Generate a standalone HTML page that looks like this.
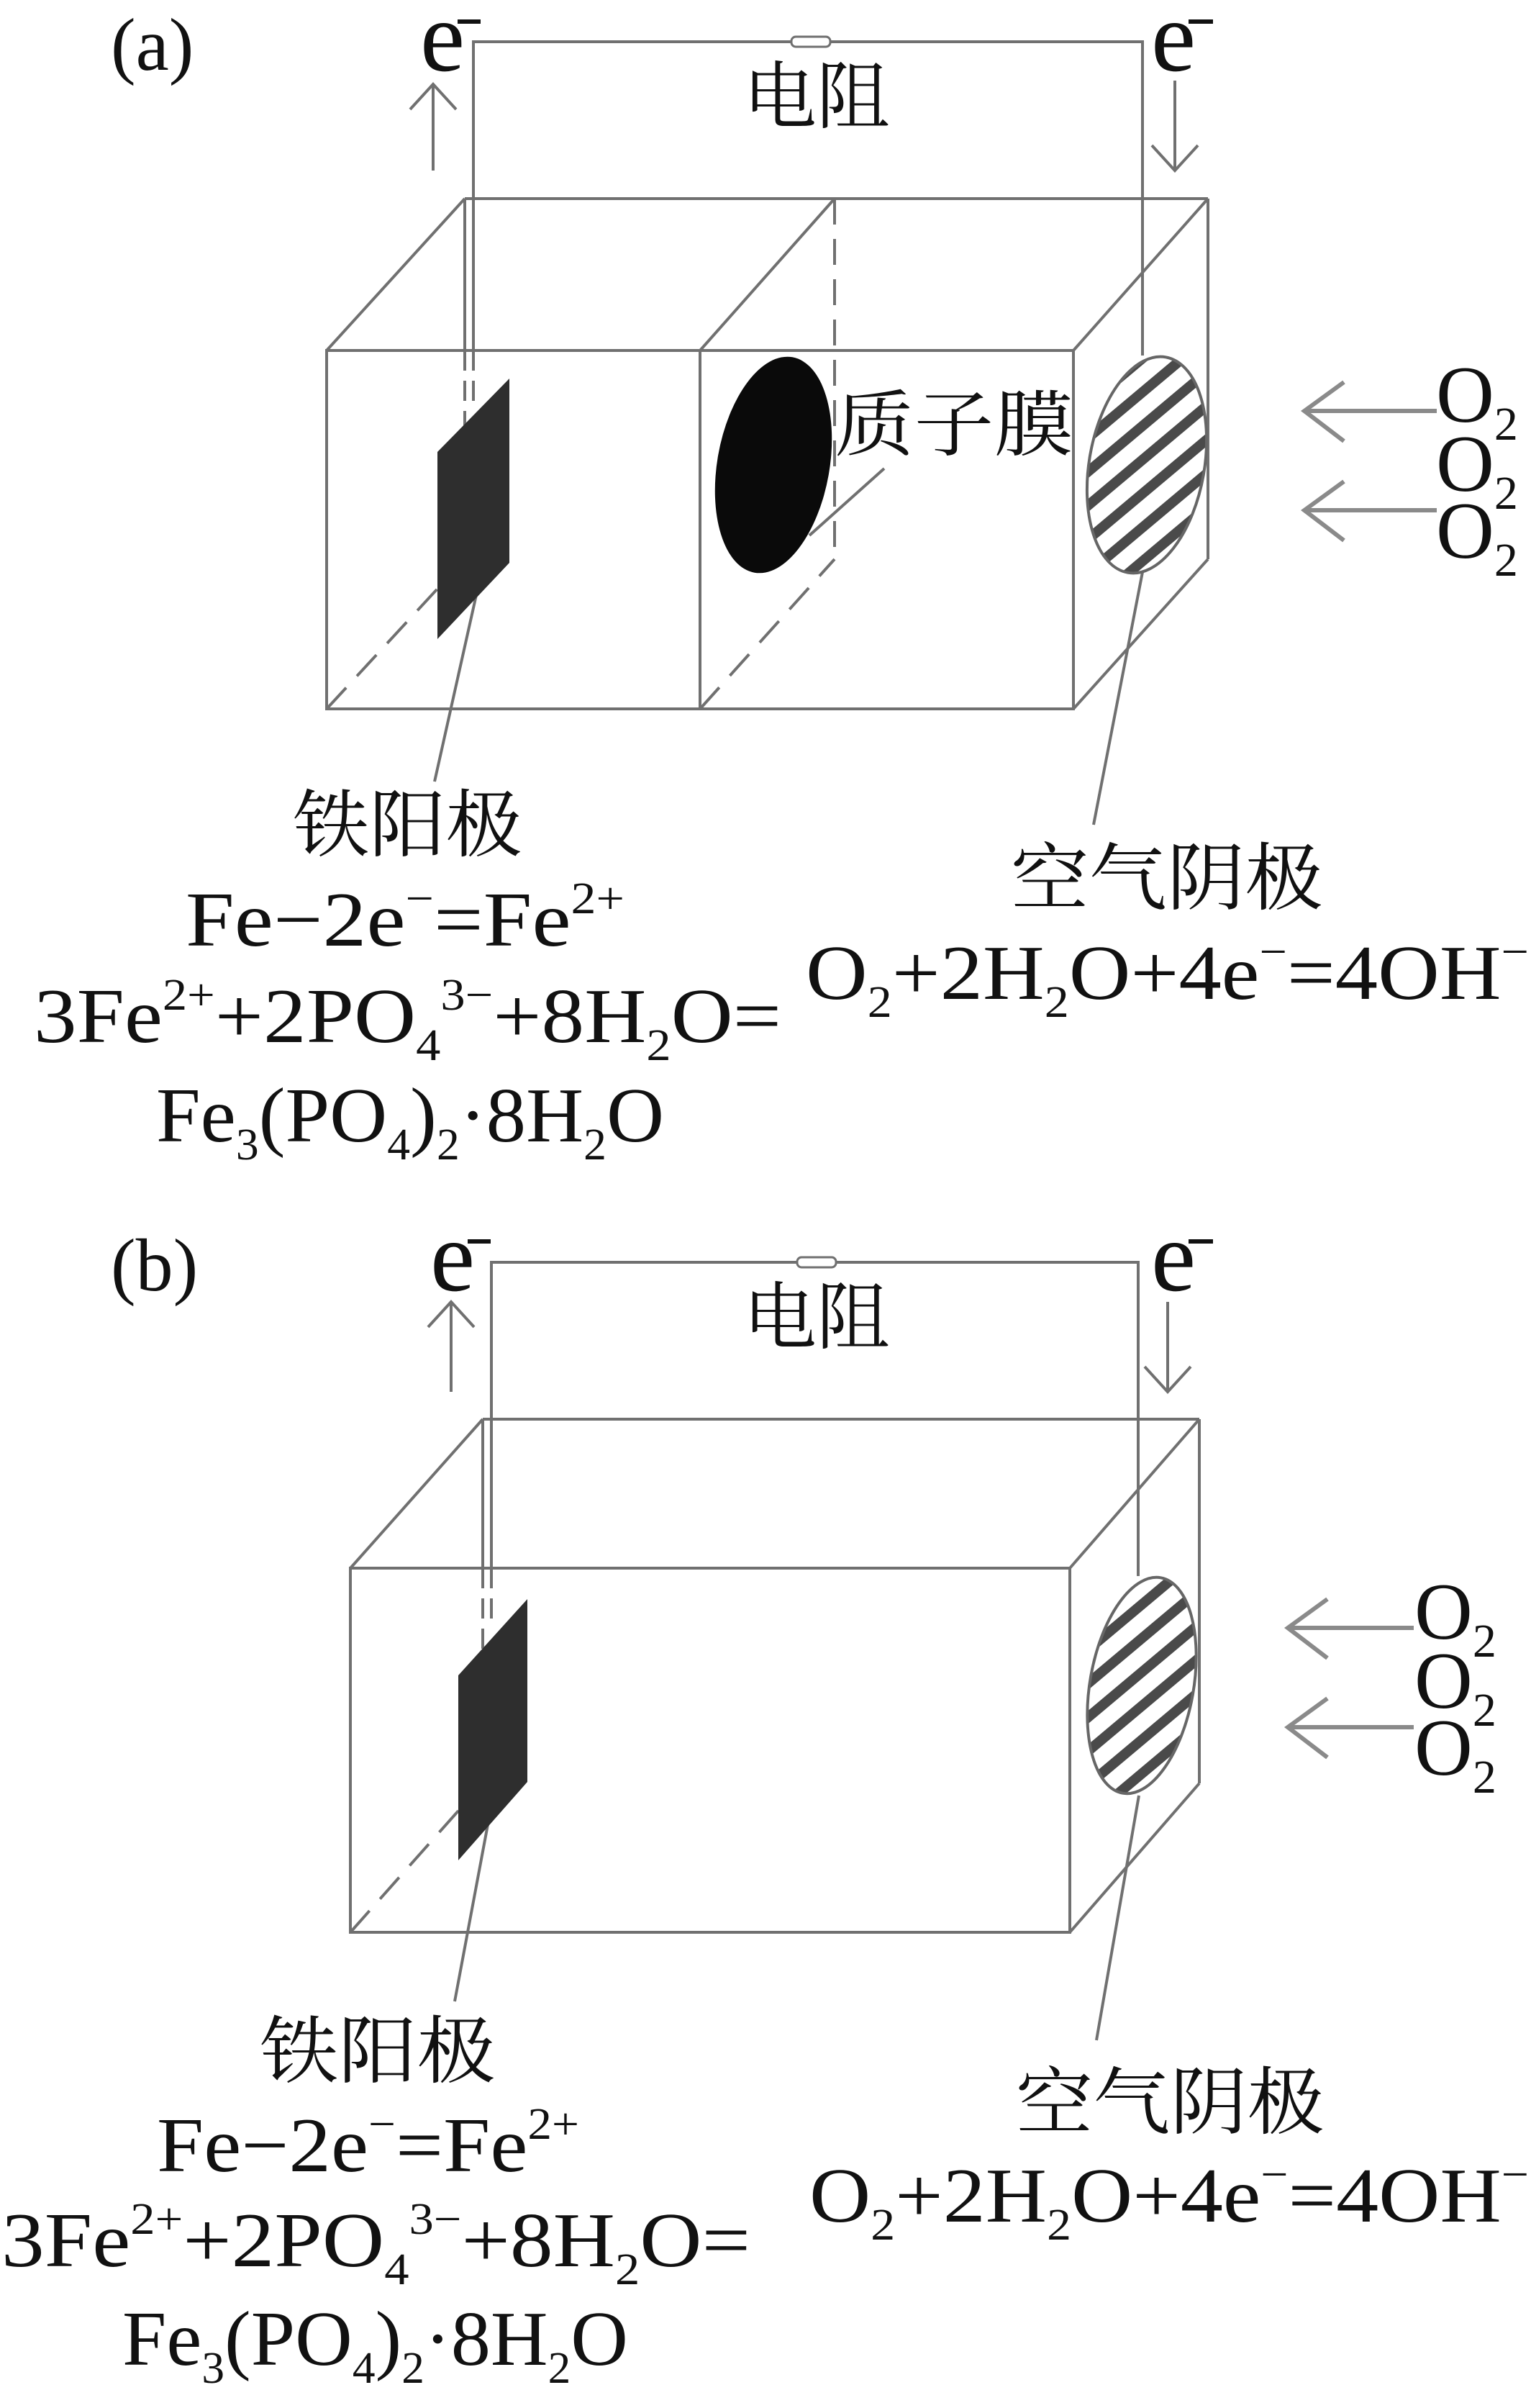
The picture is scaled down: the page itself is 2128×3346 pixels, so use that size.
<!DOCTYPE html>
<html><head><meta charset="utf-8">
<style>
html,body{margin:0;padding:0;background:#fff;}
svg{display:block;}
.t{font-family:"Liberation Serif","Noto Serif CJK SC",serif;fill:#111;}
.c{font-family:"Liberation Serif","Noto Serif CJK SC","Noto Sans CJK SC",serif;fill:#111;}
.eq{font-family:"Liberation Serif",serif;fill:#111;}
</style></head>
<body>
<svg width="2128" height="3346" viewBox="0 0 2128 3346" xmlns="http://www.w3.org/2000/svg">
<defs>
<pattern id="hatch" patternUnits="userSpaceOnUse" width="36" height="36" patternTransform="rotate(-50)">
<rect width="36" height="36" fill="#fff"/>
<rect width="36" height="14" fill="#4a4a4a"/>
</pattern>
</defs>

<!-- ============ PANEL A ============ -->
<g stroke="#707070" stroke-width="4" fill="none">
  <polyline points="658,487 658,58 1588,58 1588,494"/>
  <line x1="658" y1="487" x2="658" y2="560" stroke-dasharray="28,14"/>
  <line x1="646" y1="276" x2="1679" y2="276"/>
  <line x1="646" y1="276" x2="646" y2="487"/>
  <line x1="646" y1="487" x2="646" y2="600" stroke-dasharray="28,14"/>
  <line x1="1679" y1="276" x2="1679" y2="777"/>
  <rect x="454" y="487" width="1038" height="498"/>
  <line x1="454" y1="487" x2="646" y2="276"/>
  <line x1="1492" y1="487" x2="1679" y2="276"/>
  <line x1="1492" y1="985" x2="1679" y2="777"/>
  <line x1="454" y1="985" x2="646" y2="777" stroke-dasharray="40,22"/>
  <line x1="973" y1="487" x2="973" y2="985"/>
  <line x1="973" y1="487" x2="1160" y2="276"/>
  <line x1="1160" y1="276" x2="1160" y2="777" stroke-dasharray="36,20"/>
  <line x1="973" y1="985" x2="1160" y2="777" stroke-dasharray="40,22"/>
  <line x1="602" y1="237" x2="602" y2="118"/>
  <polyline points="570,152 602,117 634,152"/>
  <line x1="1633" y1="112" x2="1633" y2="236"/>
  <polyline points="1601,202 1633,237 1665,202"/>
  <line x1="668" y1="800" x2="604" y2="1086"/>
  <line x1="1588" y1="795" x2="1520" y2="1146"/>
  <line x1="1229" y1="651" x2="1125" y2="744"/>
</g>
<rect x="1100" y="51" width="54" height="14" rx="6" fill="#fff" stroke="#707070" stroke-width="3"/>
<polygon points="608,628 708,526 708,782 608,888" fill="#2e2e2e"/>
<ellipse cx="1075" cy="646" rx="78" ry="152" transform="rotate(10 1075 646)" fill="#0a0a0a"/>
<ellipse cx="1594" cy="646" rx="80" ry="152" transform="rotate(10 1594 646)" fill="url(#hatch)" stroke="#666" stroke-width="4"/>
<g stroke="#8a8a8a" stroke-width="6" fill="none">
  <line x1="1997" y1="571" x2="1813" y2="571"/>
  <polyline points="1868,531 1813,571 1868,613"/>
  <line x1="1997" y1="709" x2="1813" y2="709"/>
  <polyline points="1868,669 1813,709 1868,751"/>
</g>
<text class="t" x="1996" y="586" font-size="112">O<tspan font-size="66" dy="25">2</tspan></text>
<text class="t" x="1996" y="682" font-size="112">O<tspan font-size="66" dy="25">2</tspan></text>
<text class="t" x="1996" y="775" font-size="112">O<tspan font-size="66" dy="25">2</tspan></text>

<text class="t" x="154" y="97" font-size="104">(a)</text>
<text class="t" x="584" y="98" font-size="140">e</text>
<rect x="636" y="27" width="32" height="6" fill="#111"/>
<text class="t" x="1600" y="98" font-size="140">e</text>
<rect x="1652" y="27" width="34" height="6" fill="#111"/>
<text class="c" x="1033" y="170" font-size="102" textLength="204" lengthAdjust="spacingAndGlyphs">电阻</text>
<text class="c" x="1160" y="625" font-size="100" textLength="332" lengthAdjust="spacingAndGlyphs">质子膜</text>
<text class="c" x="407" y="1182" font-size="102" textLength="319" lengthAdjust="spacingAndGlyphs">铁阳极</text>
<text class="c" x="1405" y="1256" font-size="102" textLength="434" lengthAdjust="spacingAndGlyphs">空气阴极</text>

<text class="eq" x="258" y="1314" font-size="108" textLength="610" lengthAdjust="spacingAndGlyphs">Fe−2e<tspan font-size="62" dy="-45">−</tspan><tspan dy="45">=Fe</tspan><tspan font-size="62" dy="-45">2+</tspan></text>
<text class="eq" x="47" y="1448" font-size="108" textLength="1039" lengthAdjust="spacingAndGlyphs">3Fe<tspan font-size="62" dy="-45">2+</tspan><tspan dy="45">+2PO</tspan><tspan font-size="62" dy="25">4</tspan><tspan font-size="62" dy="-70">3−</tspan><tspan dy="45">+8H</tspan><tspan font-size="62" dy="25">2</tspan><tspan dy="-25">O=</tspan></text>
<text class="eq" x="217" y="1586" font-size="108" textLength="706" lengthAdjust="spacingAndGlyphs">Fe<tspan font-size="62" dy="25">3</tspan><tspan dy="-25">(PO</tspan><tspan font-size="62" dy="25">4</tspan><tspan dy="-25">)</tspan><tspan font-size="62" dy="25">2</tspan><tspan dy="-25">·8H</tspan><tspan font-size="62" dy="25">2</tspan><tspan dy="-25">O</tspan></text>
<text class="eq" x="1120" y="1388" font-size="108" textLength="1005" lengthAdjust="spacingAndGlyphs">O<tspan font-size="62" dy="25">2</tspan><tspan dy="-25">+2H</tspan><tspan font-size="62" dy="25">2</tspan><tspan dy="-25">O+4e</tspan><tspan font-size="62" dy="-45">−</tspan><tspan dy="45">=4OH</tspan><tspan font-size="62" dy="-45">−</tspan></text>

<!-- ============ PANEL B ============ -->
<g stroke="#707070" stroke-width="4" fill="none">
  <polyline points="683,2179 683,1754 1582,1754 1582,2190"/>
  <line x1="683" y1="2179" x2="683" y2="2260" stroke-dasharray="28,14"/>
  <line x1="671" y1="1972" x2="1667" y2="1972"/>
  <line x1="671" y1="1972" x2="671" y2="2179"/>
  <line x1="671" y1="2179" x2="671" y2="2300" stroke-dasharray="28,14"/>
  <line x1="1667" y1="1972" x2="1667" y2="2478"/>
  <rect x="487" y="2179" width="1000" height="506"/>
  <line x1="487" y1="2179" x2="671" y2="1972"/>
  <line x1="1487" y1="2179" x2="1667" y2="1972"/>
  <line x1="1487" y1="2685" x2="1667" y2="2478"/>
  <line x1="487" y1="2685" x2="671" y2="2478" stroke-dasharray="40,22"/>
  <line x1="627" y1="1934" x2="627" y2="1810"/>
  <polyline points="595,1844 627,1809 659,1844"/>
  <line x1="1623" y1="1809" x2="1623" y2="1933"/>
  <polyline points="1591,1899 1623,1934 1655,1899"/>
  <line x1="688" y1="2482" x2="632" y2="2781"/>
  <line x1="1583" y1="2495" x2="1524" y2="2835"/>
</g>
<rect x="1108" y="1747" width="54" height="14" rx="6" fill="#fff" stroke="#707070" stroke-width="3"/>
<polygon points="637,2328 733,2222 733,2476 637,2585" fill="#2e2e2e"/>
<ellipse cx="1587" cy="2342" rx="72" ry="152" transform="rotate(10 1587 2342)" fill="url(#hatch)" stroke="#666" stroke-width="4"/>
<g stroke="#8a8a8a" stroke-width="6" fill="none">
  <line x1="1965" y1="2262" x2="1790" y2="2262"/>
  <polyline points="1845,2222 1790,2262 1845,2304"/>
  <line x1="1965" y1="2400" x2="1790" y2="2400"/>
  <polyline points="1845,2360 1790,2400 1845,2442"/>
</g>
<text class="t" x="1966" y="2277" font-size="112">O<tspan font-size="66" dy="25">2</tspan></text>
<text class="t" x="1966" y="2373" font-size="112">O<tspan font-size="66" dy="25">2</tspan></text>
<text class="t" x="1966" y="2466" font-size="112">O<tspan font-size="66" dy="25">2</tspan></text>

<text class="t" x="154" y="1793" font-size="104">(b)</text>
<text class="t" x="598" y="1793" font-size="140">e</text>
<rect x="650" y="1722" width="32" height="6" fill="#111"/>
<text class="t" x="1600" y="1793" font-size="140">e</text>
<rect x="1652" y="1722" width="34" height="6" fill="#111"/>
<text class="c" x="1033" y="1866" font-size="102" textLength="204" lengthAdjust="spacingAndGlyphs">电阻</text>
<text class="c" x="361" y="2886" font-size="102" textLength="328" lengthAdjust="spacingAndGlyphs">铁阳极</text>
<text class="c" x="1412" y="2957" font-size="102" textLength="429" lengthAdjust="spacingAndGlyphs">空气阴极</text>

<text class="eq" x="218" y="3017" font-size="108" textLength="587" lengthAdjust="spacingAndGlyphs">Fe−2e<tspan font-size="62" dy="-45">−</tspan><tspan dy="45">=Fe</tspan><tspan font-size="62" dy="-45">2+</tspan></text>
<text class="eq" x="2" y="3149" font-size="108" textLength="1041" lengthAdjust="spacingAndGlyphs">3Fe<tspan font-size="62" dy="-45">2+</tspan><tspan dy="45">+2PO</tspan><tspan font-size="62" dy="25">4</tspan><tspan font-size="62" dy="-70">3−</tspan><tspan dy="45">+8H</tspan><tspan font-size="62" dy="25">2</tspan><tspan dy="-25">O=</tspan></text>
<text class="eq" x="170" y="3286" font-size="108" textLength="703" lengthAdjust="spacingAndGlyphs">Fe<tspan font-size="62" dy="25">3</tspan><tspan dy="-25">(PO</tspan><tspan font-size="62" dy="25">4</tspan><tspan dy="-25">)</tspan><tspan font-size="62" dy="25">2</tspan><tspan dy="-25">·8H</tspan><tspan font-size="62" dy="25">2</tspan><tspan dy="-25">O</tspan></text>
<text class="eq" x="1125" y="3087" font-size="108" textLength="1000" lengthAdjust="spacingAndGlyphs">O<tspan font-size="62" dy="25">2</tspan><tspan dy="-25">+2H</tspan><tspan font-size="62" dy="25">2</tspan><tspan dy="-25">O+4e</tspan><tspan font-size="62" dy="-45">−</tspan><tspan dy="45">=4OH</tspan><tspan font-size="62" dy="-45">−</tspan></text>
</svg>
</body></html>
